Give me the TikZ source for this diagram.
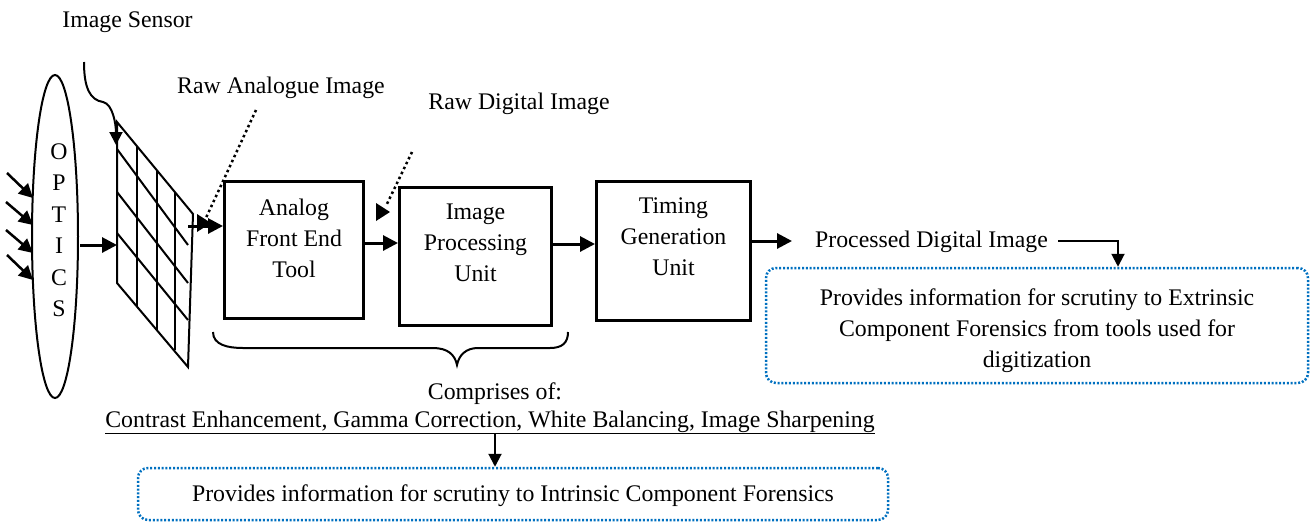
\documentclass[tikz,border=0pt]{standalone}
\usepackage{fontspec}
\setmainfont{Liberation Serif}
\usetikzlibrary{arrows.meta,shapes.geometric}
\definecolor{msblue}{RGB}{0,112,192}
\newcommand\dgfs{\fontsize{23.8pt}{31pt}\selectfont}
\begin{document}
\begin{tikzpicture}[x=1pt,y=-1pt,
  txt/.style={inner sep=0pt, anchor=base, font=\dgfs},
  mtxt/.style={inner sep=0pt, anchor=base, align=center, font=\dgfs},
  blk/.style={draw, line width=3pt, inner sep=0pt},
  bigarrow/.style={line width=3pt, -{Triangle[length=15pt,width=15pt]}},
  smallarrow/.style={line width=2pt, -{Triangle[length=13pt,width=13pt]}},
  gridline/.style={line width=2pt},
  dotline/.style={line width=2.5pt, dash pattern=on 2.5pt off 3pt},
  bluebox/.style={draw=msblue, line width=2.5pt, dash pattern=on 2pt off 1.8pt, rounded corners=10pt, inner sep=0pt},
]
\useasboundingbox (0,0) rectangle (1312,523);

% labels
\node[txt] (sensor) at (127.5,27) {Image Sensor};
\node[txt] (rawa) at (281,93) {Raw Analogue Image};
\node[txt] (rawd) at (519,109) {Raw Digital Image};

% optics
\node[draw, ellipse, line width=2pt, minimum width=46, minimum height=323, inner sep=0pt] (optics) at (55,236.5) {};
\node[inner sep=0pt, align=center, font=\fontsize{23.8pt}{31.5pt}\selectfont] (opttxt) at (59,230) {O\\P\\T\\I\\C\\S};

% incoming light
\foreach \i/\sx/\sy/\ty in {1/7/173/198, 2/6/202/225, 3/6/230/253, 4/7/255/280}{
  \coordinate (ls\i) at (\sx,\sy);
  \coordinate (lt\i) at (33,\ty);
  \draw[line width=2.5pt, -{Triangle[length=14pt,width=14pt]}] (ls\i) -- (lt\i);
}

% sensor grid
\coordinate (gTL) at (117,122);
\coordinate (gBL) at (117,283);
\coordinate (gTR) at (193,214);
\coordinate (gBR) at (188,367);
\draw[gridline] (gTL) -- (gTR) -- (gBR) -- (gBL) -- cycle;
\draw[gridline] (137,146) -- (137,307);
\draw[gridline] (157,170) -- (157,330);
\draw[gridline] (175,192) -- (175,350);
\draw[gridline] (117,149) -- (188,245);
\draw[gridline] (117,192) -- (188,283);
\draw[gridline] (117,233) -- (188,320);

% optics -> grid
\coordinate (og0) at (80,245);
\coordinate (og1) at (117,245);
\draw[bigarrow] (og0) -- (og1);

% sensor curved arrow
\coordinate (sc0) at (84,62);
\coordinate (sc1) at (116,145);
\draw[line width=2pt, -{Triangle[length=13pt,width=13pt]}] (sc0) .. controls (84,88) and (90,100) .. (103,102) .. controls (113,104) and (116,125) .. (sc1);

% blocks
\node[blk, minimum width=139, minimum height=137] (afe) at (294,250) {};
\node[mtxt] (afetxt) at (294,277) {Analog\\Front End\\Tool};
\node[blk, minimum width=152, minimum height=138] (ipu) at (475.5,256.5) {};
\node[mtxt] (iputxt) at (475.5,281) {Image\\Processing\\Unit};
\node[blk, minimum width=154, minimum height=139] (tgu) at (673.5,251) {};
\node[mtxt] (tgutxt) at (673.5,275) {Timing\\Generation\\Unit};

% grid -> afe
\coordinate (ga) at (188,226);
\draw[bigarrow] (ga) -- (afe.west |- ga);
% dotted raw analogue
\coordinate (ra0) at (256,110);
\coordinate (ra1) at (205,220);
\draw[dotline] (ra0) -- (ra1);
\fill (197,214) -- (197,232) -- (211,223) -- cycle;
% dotted raw digital
\coordinate (rd0) at (412,152);
\coordinate (rd1) at (386,206);
\draw[dotline] (rd0) -- (rd1);
\fill (376,203) -- (376,221) -- (390,212) -- cycle;

\draw[bigarrow] (afe.east |- 0,243) -- (ipu.west |- 0,243);
\draw[bigarrow] (ipu.east |- 0,244) -- (tgu.west |- 0,244);

% processed
\node[txt] (proc) at (931.5,247) {Processed Digital Image};
\coordinate (pa) at (792,241);
\draw[bigarrow] (tgu.east |- pa) -- (pa);

\node[bluebox, minimum width=542, minimum height=115] (ext) at (1037,325.5) {};
\node[mtxt] (exttxt) at (1037,367) {Provides information for scrutiny to Extrinsic\\Component Forensics from tools used for\\digitization};
\draw[smallarrow] ([xshift=10pt]proc.east) -| (1118,0 |- ext.north);

% brace
\draw[line width=2pt] (213,332) .. controls (213,345) and (228,348) .. (243,348) -- (433,348)
  .. controls (448,348) and (455,355) .. (457,365)
  .. controls (459,355) and (466,348) .. (478,348) -- (550,348)
  .. controls (562,348) and (568,343) .. (568,332);

\node[txt] (compr) at (495,399) {Comprises of:};
\node[txt] (list) at (490,427) {\underline{Contrast Enhancement, Gamma Correction, White Balancing, Image Sharpening}};

\node[bluebox, minimum width=750, minimum height=52] (intr) at (513,494) {};
\node[txt] (intrtxt) at (513,501) {Provides information for scrutiny to Intrinsic Component Forensics};
\draw[smallarrow] (495,0 |- list.south) -- (495,0 |- intr.north);
\end{tikzpicture}
\end{document}
